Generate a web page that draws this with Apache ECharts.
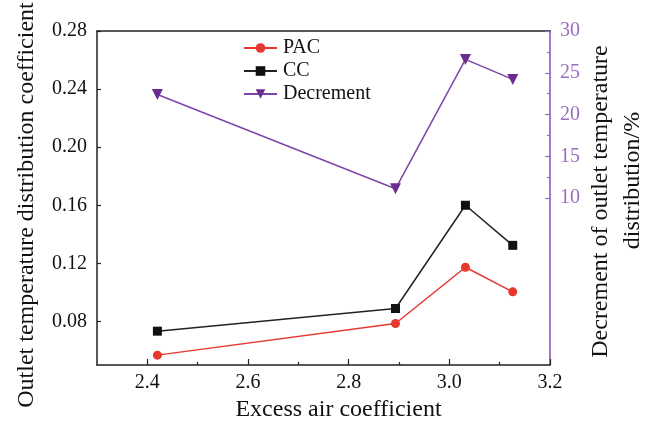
<!DOCTYPE html>
<html>
<head>
<meta charset="utf-8">
<script src="https://cdn.jsdelivr.net/npm/echarts@6/dist/echarts.min.js"></script>
<style>html,body{margin:0;padding:0;background:#fff}#c{width:651px;height:427px}</style>
</head>
<body>
<div id="c"></div>
<script>
var xValues = [2.42, 2.893, 3.032, 3.126];
var pacValues = [0.0568, 0.0786, 0.1173, 0.1004];
var ccValues = [0.0733, 0.0889, 0.1600, 0.1324];
var decValues = [22.4, 11.1, 26.6, 24.2];
var xTicks = [2.4, 2.6, 2.8, 3.0, 3.2];
var xMinorTicks = [2.5, 2.7, 2.9, 3.1];
var leftTicks = [0.08, 0.12, 0.16, 0.20, 0.24, 0.28];
var rightTicks = [10, 15, 20, 25, 30];
var rightMinorTicks = [12.5, 17.5, 22.5, 27.5];

var FONT = '"Liberation Serif", "Times New Roman", serif';
var PURPLE = '#9a6cc0';
function pairs(xs, ys){ return xs.map(function(x,i){ return [x, ys[i]]; }); }

var chart = echarts.init(document.getElementById('c'), null, {renderer:'canvas'});
chart.setOption({
  animation: false,
  backgroundColor: '#fff',
  textStyle: {fontFamily: FONT},
  grid: {left: 97, right: 101, top: 31, bottom: 62, containLabel: false, outerBoundsMode: 'none'},
  legend: {
    orient: 'vertical', left: 243, top: 38, padding: 0,
    itemWidth: 33, itemHeight: 12, itemGap: 3,
    textStyle: {fontFamily: FONT, fontSize: 20, color: '#111', lineHeight: 20, padding: [0,0,0,1]},
    data: ['PAC', 'CC', 'Decrement']
  },
  xAxis: [{
    type: 'value', min: 2.3, max: 3.2, position: 'bottom',
    name: 'Excess air coefficient', nameLocation: 'middle', nameGap: 29,
    nameTextStyle: {fontFamily: FONT, fontSize: 24, color: '#111', padding: [0,0,0,30]},
    axisLine: {show: true, onZero: false, lineStyle: {color: '#222', width: 1.5}},
    axisTick: {show: true, inside: true, length: 6, customValues: xTicks, lineStyle: {color: '#222', width: 1.2}},
    axisLabel: {customValues: xTicks, margin: 8, fontFamily: FONT, fontSize: 20, color: '#111',
      formatter: function(v){ return v.toFixed(1); }},
    splitLine: {show: false}
  }, {
    type: 'value', min: 2.3, max: 3.2, position: 'bottom',
    axisLine: {show: false, onZero: false},
    axisTick: {show: true, inside: true, length: 3, customValues: xMinorTicks, lineStyle: {color: '#222', width: 1.2}},
    axisLabel: {show: false, customValues: xMinorTicks},
    splitLine: {show: false}
  }, {
    type: 'value', min: 2.3, max: 3.2, position: 'top',
    axisLine: {show: true, onZero: false, lineStyle: {color: '#222', width: 1.5}},
    axisTick: {show: false}, axisLabel: {show: false}, splitLine: {show: false}
  }],
  yAxis: [{
    type: 'value', min: 0.05, max: 0.28, position: 'left',
    name: 'Outlet temperature distribution coefficient', nameLocation: 'middle', nameGap: 58,
    nameTextStyle: {fontFamily: FONT, fontSize: 24, color: '#111', padding: [0,14,0,0]},
    axisLine: {show: true, onZero: false, lineStyle: {color: '#222', width: 1.5}},
    axisTick: {show: true, inside: true, length: 4, customValues: leftTicks, lineStyle: {color: '#222', width: 1.2}},
    axisLabel: {customValues: leftTicks, margin: 10, fontFamily: FONT, fontSize: 20, color: '#111',
      formatter: function(v){ return v.toFixed(2); }},
    splitLine: {show: false}
  }, {
    type: 'value', min: -10, max: 30, position: 'right',
    name: '{a|Decrement of outlet temperature}\n{b|distribution/%}', nameLocation: 'middle', nameGap: 35,
    nameMoveOverlap: false,
    nameTextStyle: {fontFamily: FONT, fontSize: 24, color: '#111', lineHeight: 32,
      rich: {
        a: {fontFamily: FONT, fontSize: 24, color: '#111', lineHeight: 32, padding: [0,7,0,0]},
        b: {fontFamily: FONT, fontSize: 24, color: '#111', lineHeight: 32, padding: [0,0,0,35]}
      }},
    axisLine: {show: true, onZero: false, lineStyle: {color: PURPLE, width: 1.8}},
    axisTick: {show: true, inside: true, length: 5, customValues: rightTicks, lineStyle: {color: PURPLE, width: 1.2}},
    axisLabel: {customValues: rightTicks, margin: 10, fontFamily: FONT, fontSize: 20, color: PURPLE},
    splitLine: {show: false}
  }, {
    type: 'value', min: -10, max: 30, position: 'right',
    axisLine: {show: false, onZero: false},
    axisTick: {show: true, inside: true, length: 3, customValues: rightMinorTicks, lineStyle: {color: PURPLE, width: 1.2}},
    axisLabel: {show: false, customValues: rightMinorTicks},
    splitLine: {show: false}
  }],
  series: [{
    name: 'PAC', type: 'line', xAxisIndex: 0, yAxisIndex: 0,
    data: pairs(xValues, pacValues),
    symbol: 'circle', symbolSize: 9,
    lineStyle: {color: '#e8372f', width: 1.5},
    itemStyle: {color: '#e8372f'}
  }, {
    name: 'CC', type: 'line', xAxisIndex: 0, yAxisIndex: 0,
    data: pairs(xValues, ccValues),
    symbol: 'rect', symbolSize: 9,
    lineStyle: {color: '#222', width: 1.5},
    itemStyle: {color: '#111'}
  }, {
    name: 'Decrement', type: 'line', xAxisIndex: 0, yAxisIndex: 1,
    data: pairs(xValues, decValues),
    symbol: 'triangle', symbolRotate: 180, symbolSize: 11,
    lineStyle: {color: '#7e44a8', width: 1.5},
    itemStyle: {color: '#6a2c91'}
  }]
});
</script>
</body>
</html>
